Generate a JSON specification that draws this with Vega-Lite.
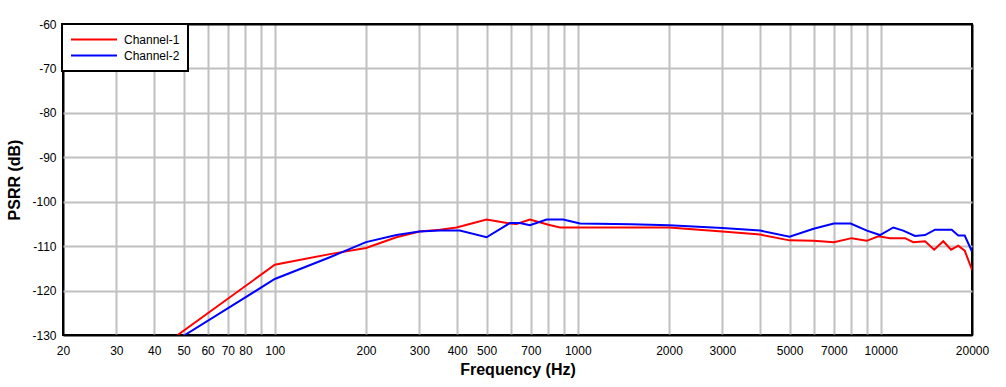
{
  "$schema": "https://vega.github.io/schema/vega-lite/v6.json",
  "width": 909,
  "height": 311,
  "autosize": {"type": "none"},
  "padding": {"left": 63, "top": 24, "right": 34, "bottom": 52},
  "background": "white",
  "datasets": {
    "psrr": [
      {"freq": 47.8, "psrr": -130, "channel": "Channel-1"},
      {"freq": 100, "psrr": -114.2, "channel": "Channel-1"},
      {"freq": 152, "psrr": -111.8, "channel": "Channel-1"},
      {"freq": 200, "psrr": -110.4, "channel": "Channel-1"},
      {"freq": 252, "psrr": -108.0, "channel": "Channel-1"},
      {"freq": 300, "psrr": -106.7, "channel": "Channel-1"},
      {"freq": 351, "psrr": -106.3, "channel": "Channel-1"},
      {"freq": 398, "psrr": -105.8, "channel": "Channel-1"},
      {"freq": 500, "psrr": -104.0, "channel": "Channel-1"},
      {"freq": 597, "psrr": -104.9, "channel": "Channel-1"},
      {"freq": 628, "psrr": -105.0, "channel": "Channel-1"},
      {"freq": 695, "psrr": -104.0, "channel": "Channel-1"},
      {"freq": 800, "psrr": -105.2, "channel": "Channel-1"},
      {"freq": 874, "psrr": -105.8, "channel": "Channel-1"},
      {"freq": 1000, "psrr": -105.8, "channel": "Channel-1"},
      {"freq": 2000, "psrr": -105.8, "channel": "Channel-1"},
      {"freq": 3000, "psrr": -106.7, "channel": "Channel-1"},
      {"freq": 4000, "psrr": -107.4, "channel": "Channel-1"},
      {"freq": 5000, "psrr": -108.7, "channel": "Channel-1"},
      {"freq": 6000, "psrr": -108.8, "channel": "Channel-1"},
      {"freq": 7000, "psrr": -109.1, "channel": "Channel-1"},
      {"freq": 8018, "psrr": -108.2, "channel": "Channel-1"},
      {"freq": 8980, "psrr": -108.8, "channel": "Channel-1"},
      {"freq": 9820, "psrr": -107.8, "channel": "Channel-1"},
      {"freq": 10720, "psrr": -108.2, "channel": "Channel-1"},
      {"freq": 12020, "psrr": -108.2, "channel": "Channel-1"},
      {"freq": 12800, "psrr": -109.1, "channel": "Channel-1"},
      {"freq": 14000, "psrr": -108.9, "channel": "Channel-1"},
      {"freq": 15000, "psrr": -110.8, "channel": "Channel-1"},
      {"freq": 16080, "psrr": -108.9, "channel": "Channel-1"},
      {"freq": 17060, "psrr": -110.8, "channel": "Channel-1"},
      {"freq": 18020, "psrr": -109.9, "channel": "Channel-1"},
      {"freq": 18920, "psrr": -111.0, "channel": "Channel-1"},
      {"freq": 20000, "psrr": -115.3, "channel": "Channel-1"},
      {"freq": 50.5, "psrr": -130, "channel": "Channel-2"},
      {"freq": 100, "psrr": -117.4, "channel": "Channel-2"},
      {"freq": 152, "psrr": -112.5, "channel": "Channel-2"},
      {"freq": 200, "psrr": -109.1, "channel": "Channel-2"},
      {"freq": 252, "psrr": -107.5, "channel": "Channel-2"},
      {"freq": 300, "psrr": -106.7, "channel": "Channel-2"},
      {"freq": 351, "psrr": -106.5, "channel": "Channel-2"},
      {"freq": 408, "psrr": -106.5, "channel": "Channel-2"},
      {"freq": 500, "psrr": -108.0, "channel": "Channel-2"},
      {"freq": 597, "psrr": -104.8, "channel": "Channel-2"},
      {"freq": 644, "psrr": -104.8, "channel": "Channel-2"},
      {"freq": 695, "psrr": -105.3, "channel": "Channel-2"},
      {"freq": 789, "psrr": -104.0, "channel": "Channel-2"},
      {"freq": 895, "psrr": -104.0, "channel": "Channel-2"},
      {"freq": 1017, "psrr": -104.9, "channel": "Channel-2"},
      {"freq": 1500, "psrr": -105.1, "channel": "Channel-2"},
      {"freq": 2000, "psrr": -105.3, "channel": "Channel-2"},
      {"freq": 3000, "psrr": -105.9, "channel": "Channel-2"},
      {"freq": 4000, "psrr": -106.5, "channel": "Channel-2"},
      {"freq": 5000, "psrr": -107.9, "channel": "Channel-2"},
      {"freq": 6000, "psrr": -106.1, "channel": "Channel-2"},
      {"freq": 7000, "psrr": -104.9, "channel": "Channel-2"},
      {"freq": 7950, "psrr": -104.9, "channel": "Channel-2"},
      {"freq": 9000, "psrr": -106.5, "channel": "Channel-2"},
      {"freq": 9940, "psrr": -107.5, "channel": "Channel-2"},
      {"freq": 11000, "psrr": -105.8, "channel": "Channel-2"},
      {"freq": 11860, "psrr": -106.5, "channel": "Channel-2"},
      {"freq": 12970, "psrr": -107.7, "channel": "Channel-2"},
      {"freq": 14000, "psrr": -107.5, "channel": "Channel-2"},
      {"freq": 15100, "psrr": -106.3, "channel": "Channel-2"},
      {"freq": 17140, "psrr": -106.3, "channel": "Channel-2"},
      {"freq": 18020, "psrr": -107.6, "channel": "Channel-2"},
      {"freq": 18920, "psrr": -107.6, "channel": "Channel-2"},
      {"freq": 20000, "psrr": -111.2, "channel": "Channel-2"}
    ]
  },
  "data": {"name": "psrr"},
  "mark": {"type": "line", "strokeWidth": 2, "clip": true},
  "encoding": {
    "x": {
      "field": "freq",
      "type": "quantitative",
      "scale": {"type": "log", "domain": [20, 20000], "nice": false},
      "axis": {
        "title": "Frequency (Hz)",
        "values": [20, 30, 40, 50, 60, 70, 80, 90, 100, 200, 300, 400, 500, 600, 700, 800, 900, 1000, 2000, 3000, 4000, 5000, 6000, 7000, 8000, 9000, 10000, 20000],
        "labelExpr": "indexof([20,30,40,50,60,70,80,100,200,300,400,500,700,1000,2000,3000,5000,7000,10000,20000], datum.value) >= 0 ? datum.value + '' : ''",
        "labelOverlap": false,
        "labelFlush": false,
        "labelBound": false,
        "labelPadding": 10,
        "gridColor": {"condition": {"test": "datum.value == 20 || datum.value == 20000", "value": "black"}, "value": "#C0C0C0"},
        "titleX": 454.5,
        "titleY": 39,
        "titleAnchor": null,
        "titleAlign": "center",
        "titleBaseline": "alphabetic"
      }
    },
    "y": {
      "field": "psrr",
      "type": "quantitative",
      "scale": {"domain": [-130, -60], "nice": false, "zero": false},
      "axis": {
        "title": "PSRR (dB)",
        "values": [-130, -120, -110, -100, -90, -80, -70, -60],
        "labelExpr": "datum.value + ''",
        "labelPadding": 7,
        "gridColor": {"condition": {"test": "datum.value == -60 || datum.value == -130", "value": "black"}, "value": "#C0C0C0"},
        "titleX": -44,
        "titleY": 155.5,
        "titleAngle": -90,
        "titleAlign": "center",
        "titleBaseline": "alphabetic"
      }
    },
    "color": {
      "field": "channel",
      "type": "nominal",
      "scale": {"domain": ["Channel-1", "Channel-2"], "range": ["#FF0000", "#0000FF"]},
      "legend": {
        "title": null,
        "orient": "none",
        "legendX": -1,
        "legendY": 0,
        "symbolType": "stroke",
        "symbolSize": 2116,
        "symbolStrokeWidth": 2,
        "clipHeight": 15,
        "rowPadding": 1,
        "padding": 8,
        "labelOffset": 6,
        "labelFontSize": 12,
        "labelFont": "Liberation Sans",
        "labelColor": "black",
        "fillColor": "white",
        "strokeColor": "black"
      }
    }
  },
  "config": {
    "view": {"stroke": "black", "strokeWidth": 2},
    "font": "Liberation Sans",
    "axis": {
      "grid": true,
      "gridWidth": 2,
      "gridOpacity": 1,
      "domain": false,
      "ticks": false,
      "labelColor": "black",
      "labelFontSize": 12,
      "labelFont": "Liberation Sans",
      "titleFont": "Liberation Sans",
      "titleFontSize": 16,
      "titleFontWeight": "bold",
      "titleColor": "black"
    },
    "legend": {"strokeWidth": 2}
  }
}
